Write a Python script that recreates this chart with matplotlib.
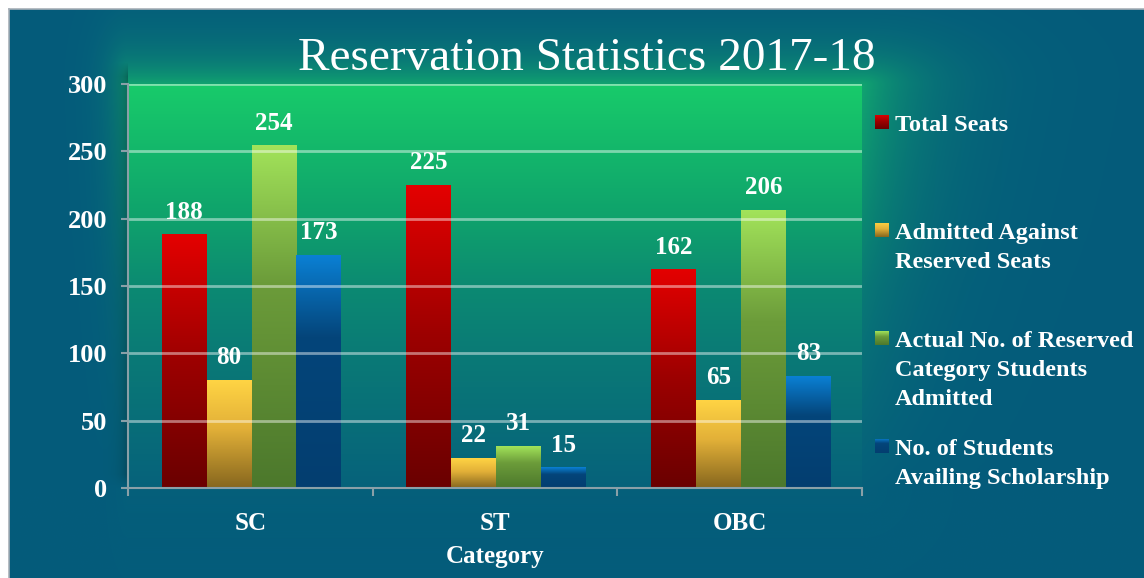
import numpy as np
import matplotlib.pyplot as plt
from matplotlib.colors import LinearSegmentedColormap, to_rgb

categories = ["SC", "ST", "OBC"]
series_names = [
    "Total Seats",
    "Admitted Against\nReserved Seats",
    "Actual No. of Reserved\nCategory Students\nAdmitted",
    "No. of Students\nAvailing Scholarship",
]
total_seats = [188, 225, 162]
admitted_reserved = [80, 22, 65]
actual_admitted = [254, 31, 206]
scholarship = [173, 15, 83]
series_values = [total_seats, admitted_reserved, actual_admitted, scholarship]
y_ticks = [0, 50, 100, 150, 200, 250, 300]

FONT = "Liberation Serif"
W, H = 1144, 578

# gradients: (position from bottom, colour)
bar_stops = [
    [(0.0, "#6a0000"), (0.5, "#9c0000"), (1.0, "#e40000")],
    [(0.0, "#86661e"), (0.55, "#e2b038"), (1.0, "#ffd444")],
    [(0.0, "#4c782c"), (0.6, "#6c9c3a"), (1.0, "#a2e35a")],
    [(0.0, "#033e70"), (0.65, "#04457a"), (1.0, "#0a80d4")],
]
bar_cmaps = [LinearSegmentedColormap.from_list(f"b{i}", s) for i, s in enumerate(bar_stops)]
plot_cmap = LinearSegmentedColormap.from_list(
    "plot", [(0.0, "#06627b"), (0.33, "#0a7a76"), (0.5, "#0c8a72"),
             (0.67, "#0fa26c"), (1.0, "#18cb6a")])

fig = plt.figure(figsize=(W / 100, H / 100), dpi=100)
fig.patch.set_facecolor("white")

# plot area in pixels
px0, px1, py0, py1 = 128, 862, 84, 488

# background with glow around the plot area and a soft shadow on its left
m = 9
bg = fig.add_axes([m / W, 0, 1 - m / W, 1 - m / H], zorder=-5)
yy, xx = np.mgrid[m:H, m:W].astype(float)
dx = np.maximum(np.maximum((px0 - xx) * 4, 0), xx - px1)
dy = np.maximum(np.maximum((py0 - yy) * 2, 0), yy - py1)
d = np.sqrt(dx ** 2 + dy ** 2)
v = (py1 - np.clip(yy, py0, py1)) / (py1 - py0)
pc = plot_cmap(v)[..., :3]
g = (0.65 * np.exp(-d / 60.0))[..., None]
base = np.array(to_rgb("#045b7b"))
img = base * (1 - g) + pc * g
fade_y = np.clip((yy - (py0 - 22)) / 14, 0, 1) * np.clip((py1 - yy) / 14, 0, 1)
sh = np.where(xx < px0, 0.5 * np.exp(-(px0 - xx) / 7.0), 0.0) * fade_y
sh = sh[..., None]
img = img * (1 - sh) + np.array(to_rgb("#022a38")) * sh
bg.imshow(img, aspect="auto", extent=[0, 1, 0, 1], origin="upper")
bg.set_xticks([])
bg.set_yticks([])
for s in ["right", "bottom"]:
    bg.spines[s].set_visible(False)
for s in ["left", "top"]:
    bg.spines[s].set_color("#a8b0b8")
    bg.spines[s].set_linewidth(1.2)

ax = fig.add_axes([px0 / W, 1 - py1 / H, (px1 - px0) / W, (py1 - py0) / H])
ax.set_facecolor("none")

grad = np.linspace(0, 1, 256).reshape(-1, 1)
ax.imshow(grad, cmap=plot_cmap, aspect="auto", extent=[-0.5, 2.5, 0, 300],
          origin="lower", zorder=0)

ax.set_yticks(y_ticks)
ax.yaxis.grid(True, color="white", alpha=0.45, linewidth=2, zorder=1)
ax.set_axisbelow(False)

x = np.arange(len(categories))
bw = 0.1835
for i, (vals, cmap) in enumerate(zip(series_values, bar_cmaps)):
    xs = x + (i - 1.5) * bw + 0.005
    bars = ax.bar(xs, vals, bw, color="none", edgecolor="none", zorder=2)
    for b, val in zip(bars, vals):
        bx, by = b.get_x(), b.get_y()
        ax.imshow(grad, cmap=cmap, aspect="auto", origin="lower",
                  extent=[bx, bx + b.get_width(), by, by + b.get_height()], zorder=2)
        ax.annotate(str(val), (bx + b.get_width() / 2, val), xytext=(0, 8),
                    textcoords="offset points", ha="center", va="bottom",
                    color="white", fontsize=18, fontweight="bold", family=FONT, zorder=3)
ax.set_xlim(-0.5, 2.5)
ax.set_ylim(0, 300)

for s in ["top", "right"]:
    ax.spines[s].set_visible(False)
for s in ["left", "bottom"]:
    ax.spines[s].set_color("#8aa0a8")
    ax.spines[s].set_linewidth(1.5)
    ax.spines[s].set_zorder(4)

ax.tick_params(axis="y", length=5, width=1.5, color="#8aa0a8", pad=10,
               labelsize=19, labelcolor="white")
for t in ax.get_yticklabels():
    t.set_fontweight("bold")
    t.set_family(FONT)

ax.set_xticks([-0.5, 0.5, 1.5, 2.5])
ax.set_xticklabels([])
ax.tick_params(axis="x", which="major", length=6, width=1.5, color="#8aa0a8")
ax.set_xticks(x, minor=True)
ax.set_xticklabels(categories, minor=True)
ax.tick_params(axis="x", which="minor", length=0, pad=17, labelsize=18,
               labelcolor="white")
for t in ax.get_xticklabels(minor=True):
    t.set_fontweight("bold")
    t.set_family(FONT)

fig.text(495 / W, 1 - 563 / H, "Category", ha="center", va="baseline",
         color="white", fontsize=18, fontweight="bold", family=FONT)
fig.text(587 / W, 1 - 70 / H, "Reservation Statistics 2017-18", ha="center",
         va="baseline", color="white", fontsize=34, family=FONT)

# legend
leg_base = [131, 239, 347, 455]
line_h = 29
for name, cmap, yb in zip(series_names, bar_cmaps, leg_base):
    sq = fig.add_axes([875 / W, 1 - (yb - 2) / H, 14 / W, 14 / H])
    sq.imshow(grad, cmap=cmap, aspect="auto", origin="lower")
    sq.axis("off")
    for k, line in enumerate(name.split("\n")):
        fig.text(895 / W, 1 - (yb + k * line_h) / H, line, ha="left", va="baseline",
                 color="white", fontsize=17.5, fontweight="bold", family=FONT)

fig.savefig("out.png", dpi=100)
